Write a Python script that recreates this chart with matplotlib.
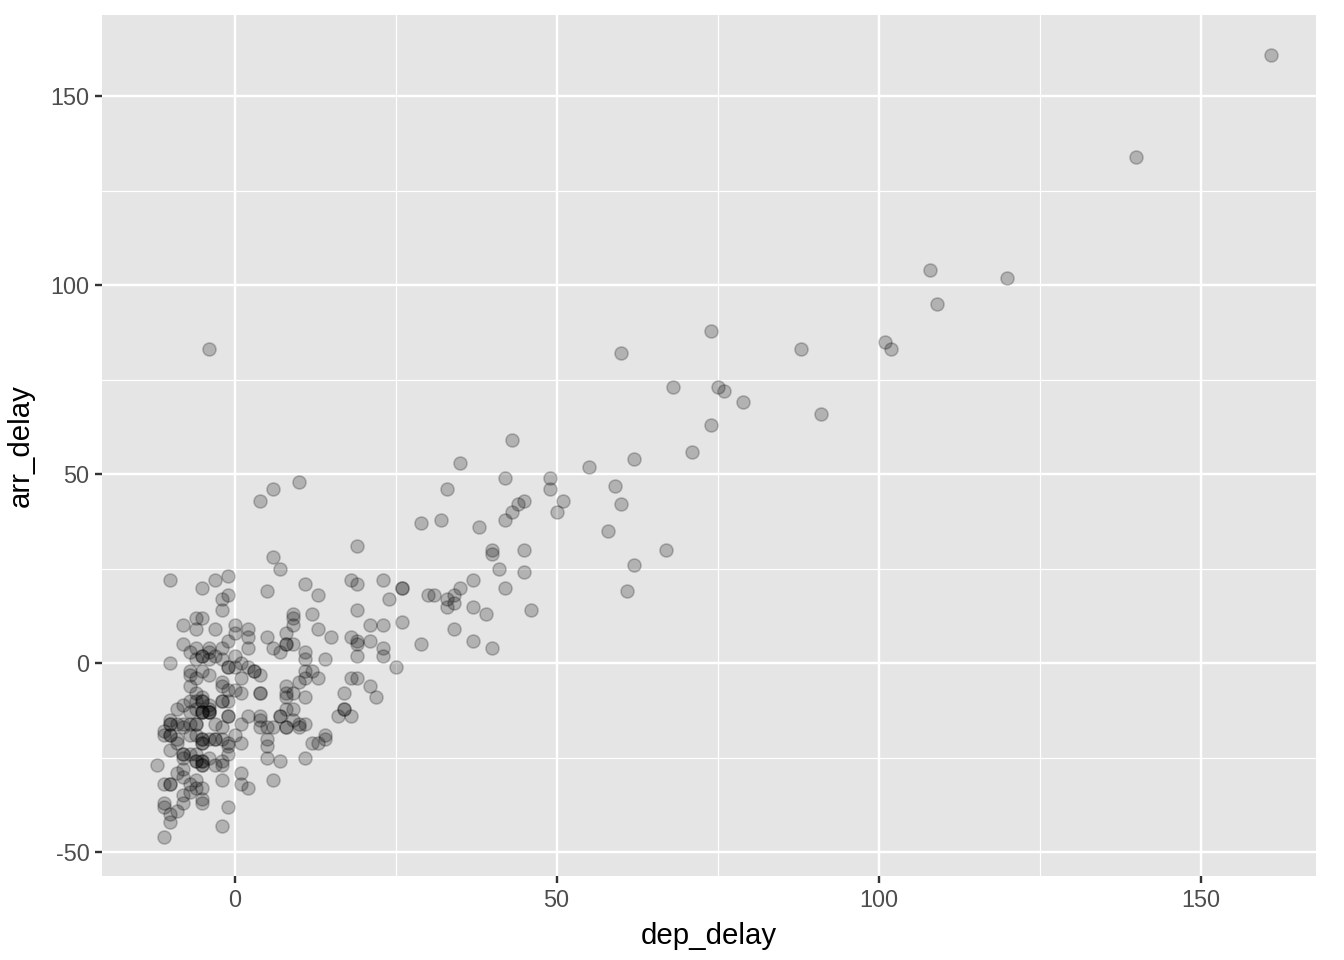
import numpy as np
import matplotlib
matplotlib.use("Agg")
import matplotlib.pyplot as plt
from matplotlib.ticker import MultipleLocator

plt.rcParams['font.family'] = ['Liberation Sans', 'DejaVu Sans']
plt.rcParams['axes.unicode_minus'] = False

# departure delay / arrival delay (minutes)
dep_delay = [
    161, 140, 108, 120, 109, 74, 88, 101, 102, 60, 68, 75, 76, 79, 91, 74, 71, 62, 55, 59, 60, 58, 67, 62, 61,
    43, 35, 42, 49, 49, 33, 45, 51, 44, 43, 50, 42, 29, 32, 38, 40, 40, 45, 41, 45, 26, 26, 37, 35, 42,
    31, 33, 34, 34, 33, 37, 39, 46, 34, 37, 40,
    -4, 10, 6, 4, 19, 6, 7, 11, 13, 18, 19, 23, 24, 30, 12, 19, 9, 9, 9, 8, 13, 15, 21, 23, 26,
    18, 19, 19, 21, 29, 8, 8, 9, 7, 11, 11, 14, 19, 23, 23, 25, 11, 12, 11, 13, 10, 8, 8, 9, 8, 11,
    18, 19, 21, 22, 17, 17, 17, 8, 9, 16, 18, 7, 8, 9, 10, 11, 10, 12, 13, 14, 14, 7, 11,
    -10, -5, -3, -1, -2, -1, -2, 5, -8, -6, -5, -6, -3, 0, 0, -1, 2, 2, 2, 5, -8, -7, -6, -5, -5,
    -4, -4, -6, -5, -4, -3, -2, -2, -1, -1, 0, 0, 1, -10, -7, -7, -6, -4, -7, -2, -2, 1, 0, 1, -1,
    -2, -2, -1, 2, 3, 3, 4, 4, 4, -5, -5, -5, -7, -6, -8, -9, -4, 6, -6, -7, -6, -5, -4, -4,
    -10, -10, -10, -9, -8, -8, -7, -6, -6, -5, -5, -4, -4, -3, -2, -1, -1, 1, 2, 4, 4, 5, 6, 7,
    -11, -10, -10, -9, -10, -7, -6, -5, -5, -5, -5, -4, -3, -3, -2, -1, 0, 1,
    -8, -8, -8, -7, -6, -6, -6, -5, -5, -5, -5, -4, -2, -2, -1, -1, -3,
    4, 5, 5, 5, 6, 8, 1, 1, 2, -12, -11, -10, -10, -9, -8, -8, -7, -6, -6, -5,
    -11, -11, -10, -10, -9, -8, -8, -7, -5, -5, -11, -2, -1, -2, -11, -9,
]
arr_delay = [
    161, 134, 104, 102, 95, 88, 83, 85, 83, 82, 73, 73, 72, 69, 66, 63, 56, 54, 52, 47, 42, 35, 30, 26, 19,
    59, 53, 49, 49, 46, 46, 43, 43, 42, 40, 40, 38, 37, 38, 36, 30, 29, 30, 25, 24, 20, 20, 22, 20, 20,
    18, 17, 18, 16, 15, 15, 13, 14, 9, 6, 4,
    83, 48, 46, 43, 31, 28, 25, 21, 18, 22, 21, 22, 17, 18, 13, 14, 13, 12, 10, 8, 9, 7, 10, 10, 11,
    7, 6, 5, 6, 5, 5, 5, 5, 3, 3, 1, 1, 2, 4, 2, -1, -2, -2, -4, -4, -5, -6, -8, -8, -9, -9,
    -4, -4, -6, -9, -8, -12, -12, -12, -12, -14, -14, -14, -17, -15, -16, -16, -17, -21, -21, -19, -20, -26, -25,
    22, 20, 22, 23, 17, 18, 14, 19, 10, 12, 12, 9, 9, 10, 8, 6, 9, 7, 4, 7, 5, 3, 4, 2, 2,
    4, 3, 1, -2, 1, 2, 1, 4, -1, -1, 2, -1, 0, 0, -2, -3, -4, -3, -6, -5, -6, -4, -7, -8, -7,
    -10, -10, -10, -1, -2, -2, -3, -8, -8, -9, -10, -10, -10, -10, -11, -12, -12, 4, -8, -13, -12, -13, -11, -13,
    -15, -16, -16, -16, -16, -17, -16, -16, -16, -13, -13, -13, -13, -16, -17, -14, -14, -16, -14, -14, -15, -17, -17, -14,
    -19, -19, -19, -21, -23, -19, -19, -20, -20, -21, -21, -20, -20, -20, -20, -21, -19, -21,
    -24, -24, -25, -24, -24, -26, -26, -26, -26, -27, -27, -25, -26, -27, -24, -22, -27,
    -17, -20, -22, -25, -31, -17, -29, -32, -33, -27, -32, -32, -32, -29, -28, -30, -32, -31, -33, -33,
    -37, -38, -40, -42, -39, -37, -35, -34, -36, -37, -46, -43, -38, -31, -18, -20,
]

fig = plt.figure(figsize=(7, 5), dpi=192)
ax = fig.add_axes([0.0759, 0.0875, 0.9031, 0.8965])
ax.set_facecolor('#E5E5E5')

ax.scatter(dep_delay, arr_delay, s=24, facecolor=(0, 0, 0, 0.22),
           edgecolor=(0, 0, 0, 0.22), linewidths=0.6, zorder=3)

ax.set_xlim(-20.6, 167.9)
ax.set_ylim(-56.3, 171.4)
ax.xaxis.set_major_locator(MultipleLocator(50))
ax.yaxis.set_major_locator(MultipleLocator(50))
ax.xaxis.set_minor_locator(MultipleLocator(25))
ax.yaxis.set_minor_locator(MultipleLocator(25))

ax.grid(which='major', color='white', linewidth=0.9, zorder=1)
ax.grid(which='minor', color='white', linewidth=0.45, zorder=1)
ax.set_axisbelow(True)
for sp in ax.spines.values():
    sp.set_visible(False)

ax.tick_params(which='major', length=2.75, width=0.9, color='#333333',
               labelsize=8.8, labelcolor='#4D4D4D', pad=2)
ax.tick_params(which='minor', length=0)

ax.set_xlabel('dep_delay', fontsize=11, color='black', labelpad=4)
ax.set_ylabel('arr_delay', fontsize=11, color='black', labelpad=6)

fig.savefig('out.png', dpi=192, facecolor='white')
